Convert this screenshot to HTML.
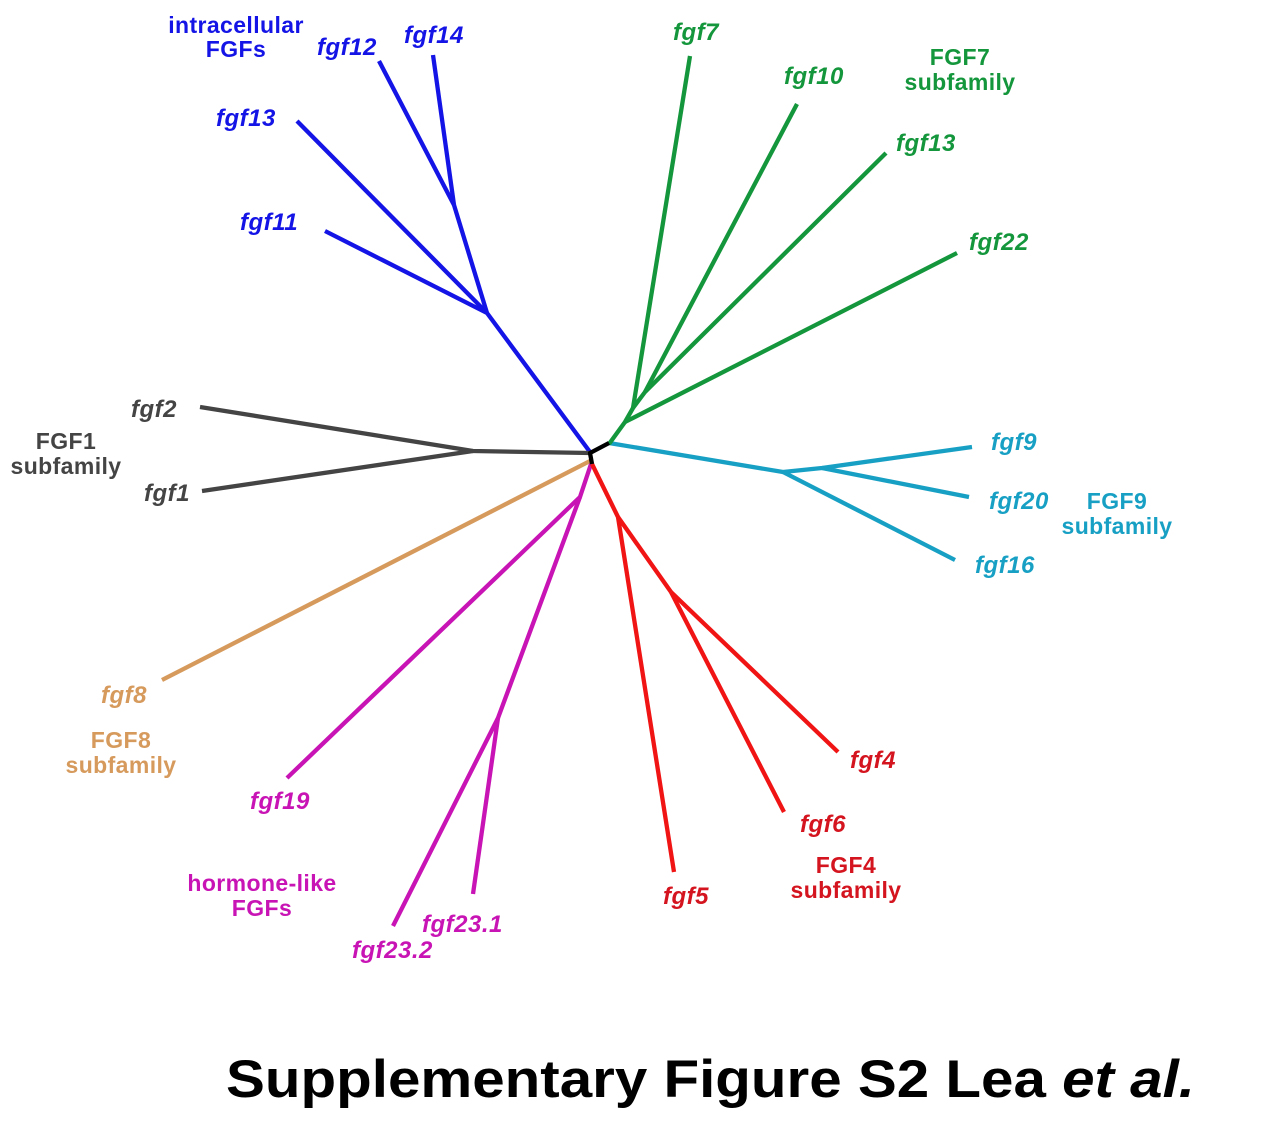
<!DOCTYPE html>
<html><head><meta charset="utf-8"><style>
html,body{margin:0;padding:0;background:#fff}
svg{display:block}
text{font-family:"Liberation Sans",Arial,sans-serif;font-weight:bold}
.l{font-style:italic;font-size:24px;letter-spacing:0.5px}
.g{font-size:23px;text-anchor:middle;letter-spacing:0.4px}
</style></head><body>
<svg width="1267" height="1129" viewBox="0 0 1267 1129" xmlns="http://www.w3.org/2000/svg">
<g fill="none" stroke-width="4.3" stroke-linecap="butt" stroke-linejoin="round">
<g stroke="#1414e6">
<polyline points="590,452 487,313 325,231"/>
<line x1="487" y1="313" x2="297" y2="121"/>
<line x1="487" y1="313" x2="454" y2="205"/>
<line x1="454" y1="205" x2="379" y2="61"/>
<line x1="454" y1="205" x2="433" y2="55"/>
</g>
<g stroke="#444">
<polyline points="590,453 473,451 200,407"/>
<line x1="473" y1="451" x2="202" y2="491"/>
</g>
<line stroke="#d69a5c" x1="590" y1="461" x2="162" y2="680"/>
<g stroke="#c814b4">
<polyline points="591,464 580,497 287,778"/>
<polyline points="580,497 498,718 393,926"/>
<line x1="498" y1="718" x2="473" y2="894"/>
</g>
<g stroke="#f01414">
<polyline points="592,464 618,517 674,872"/>
<line x1="618" y1="517" x2="671" y2="592"/>
<line x1="671" y1="592" x2="838" y2="752"/>
<line x1="671" y1="592" x2="784" y2="812"/>
</g>
<g stroke="#18a0c4">
<polyline points="609,443 783,472 822,468 972,447"/>
<line x1="822" y1="468" x2="969" y2="497"/>
<line x1="783" y1="472" x2="955" y2="560"/>
</g>
<g stroke="#14963c">
<polyline points="609,444 625,422 633,408 645,392 886,153"/>
<line x1="625" y1="422" x2="957" y2="253"/>
<line x1="633" y1="408" x2="690" y2="56"/>
<line x1="645" y1="392" x2="797" y2="104"/>
</g>
<polyline stroke="#000" points="609,443 590,453 592,464"/>
</g>
<g fill="#1414e6">
<text class="g" x="236" y="33">intracellular</text><text class="g" x="236" y="57">FGFs</text>
<text class="l" x="317" y="55">fgf12</text><text class="l" x="404" y="43">fgf14</text>
<text class="l" x="216" y="126">fgf13</text><text class="l" x="240" y="230">fgf11</text>
</g>
<g fill="#444">
<text class="l" x="131" y="417">fgf2</text><text class="l" x="144" y="501">fgf1</text>
<text class="g" x="66" y="449">FGF1</text><text class="g" x="66" y="474">subfamily</text>
</g>
<g fill="#d69a5c">
<text class="l" x="101" y="703">fgf8</text>
<text class="g" x="121" y="748">FGF8</text><text class="g" x="121" y="773">subfamily</text>
</g>
<g fill="#c814b4">
<text class="l" x="250" y="809">fgf19</text>
<text class="g" x="262" y="891">hormone-like</text><text class="g" x="262" y="916">FGFs</text>
<text class="l" x="352" y="958">fgf23.2</text><text class="l" x="422" y="932">fgf23.1</text>
</g>
<g fill="#d4141e">
<text class="l" x="663" y="904">fgf5</text><text class="l" x="800" y="832">fgf6</text><text class="l" x="850" y="768">fgf4</text>
<text class="g" x="846" y="873">FGF4</text><text class="g" x="846" y="898">subfamily</text>
</g>
<g fill="#18a0c4">
<text class="l" x="975" y="573">fgf16</text><text class="l" x="989" y="509">fgf20</text><text class="l" x="991" y="450">fgf9</text>
<text class="g" x="1117" y="509">FGF9</text><text class="g" x="1117" y="534">subfamily</text>
</g>
<g fill="#14963c">
<text class="l" x="969" y="250">fgf22</text><text class="l" x="896" y="151">fgf13</text>
<text class="g" x="960" y="65">FGF7</text><text class="g" x="960" y="90">subfamily</text>
<text class="l" x="784" y="84">fgf10</text><text class="l" x="673" y="40">fgf7</text>
</g>
<text x="226" y="1097" font-size="53" fill="#000" textLength="969" lengthAdjust="spacingAndGlyphs">Supplementary Figure S2 Lea <tspan font-style="italic">et al.</tspan></text>
</svg>
</body></html>
